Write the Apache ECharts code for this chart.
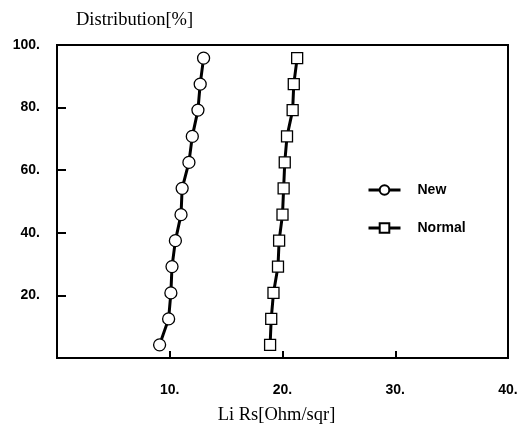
<!DOCTYPE html>
<html>
<head>
<meta charset="utf-8">
<script src="https://cdn.jsdelivr.net/npm/echarts@6/dist/echarts.min.js"></script>
<style>html,body{margin:0;padding:0;background:#fff;}#c{width:531px;height:430px;}</style>
</head>
<body>
<div id="c"></div>
<script>
const seriesNames = ['New', 'Normal'];
const distribution = [4.2, 12.5, 20.8, 29.2, 37.5, 45.8, 54.2, 62.5, 70.8, 79.2, 87.5, 95.8];
const newRs = [9.1, 9.9, 10.1, 10.2, 10.5, 11.0, 11.1, 11.7, 12.0, 12.5, 12.7, 13.0];
const normalRs = [18.9, 19.0, 19.2, 19.6, 19.7, 20.0, 20.1, 20.2, 20.4, 20.9, 21.0, 21.3];
const yTicks = [0, 20, 40, 60, 80, 100];
const xTicks = [0, 10, 20, 30, 40];

const tickFont = {fontFamily: 'Liberation Sans, Arial, sans-serif', fontWeight: 'bold', fontSize: 14, color: '#000'};
function pairs(xs, ys) { return xs.map((x, i) => [x, ys[i]]); }

const chart = echarts.init(document.getElementById('c'), null, {renderer: 'canvas'});
chart.setOption({
  animation: false,
  backgroundColor: '#fff',
  title: {
    text: 'Distribution[%]', left: 71, top: 6,
    textStyle: {fontFamily: 'Liberation Serif, Times New Roman, serif', fontWeight: 'normal', fontSize: 18.5, color: '#000'}
  },
  grid: {left: 57, right: 23, top: 45, bottom: 66, show: true, borderColor: '#000', borderWidth: 2, backgroundColor: 'transparent'},
  legend: {
    data: seriesNames, orient: 'vertical', left: 362, top: 178,
    itemWidth: 32, itemHeight: 12, itemGap: 24,
    lineStyle: {width: 3, color: '#000'},
    textStyle: Object.assign({}, tickFont, {lineHeight: 14, padding: [0, 0, 0, 12]})
  },
  xAxis: {
    type: 'value', min: xTicks[0], max: xTicks[xTicks.length - 1], interval: 10,
    name: 'Li Rs[Ohm/sqr]', nameLocation: 'middle', nameGap: 48,
    nameTextStyle: {fontFamily: 'Liberation Serif, Times New Roman, serif', fontSize: 18.5, color: '#000', padding: [0, 12, 0, 0]},
    axisLine: {lineStyle: {color: '#000', width: 2}},
    axisTick: {inside: true, length: 7, lineStyle: {color: '#000', width: 2}},
    axisLabel: Object.assign({}, tickFont, {margin: 25, formatter: v => v === 0 ? '' : v + '.'}),
    splitLine: {show: false}
  },
  yAxis: {
    type: 'value', min: yTicks[0], max: yTicks[yTicks.length - 1], interval: 20,
    axisLine: {lineStyle: {color: '#000', width: 2}},
    axisTick: {inside: true, length: 9, lineStyle: {color: '#000', width: 2}},
    axisLabel: Object.assign({}, tickFont, {margin: 17, formatter: v => v === 0 ? '' : v + '.'}),
    splitLine: {show: false}
  },
  series: [
    {
      name: seriesNames[0], type: 'line', data: pairs(newRs, distribution),
      symbol: 'circle', symbolSize: 12,
      lineStyle: {color: '#000', width: 3},
      itemStyle: {color: '#fff', borderColor: '#000', borderWidth: 1.3}
    },
    {
      name: seriesNames[1], type: 'line', data: pairs(normalRs, distribution),
      symbol: 'rect', symbolSize: 11,
      lineStyle: {color: '#000', width: 3},
      itemStyle: {color: '#fff', borderColor: '#000', borderWidth: 1.3}
    }
  ]
});
</script>
</body>
</html>
